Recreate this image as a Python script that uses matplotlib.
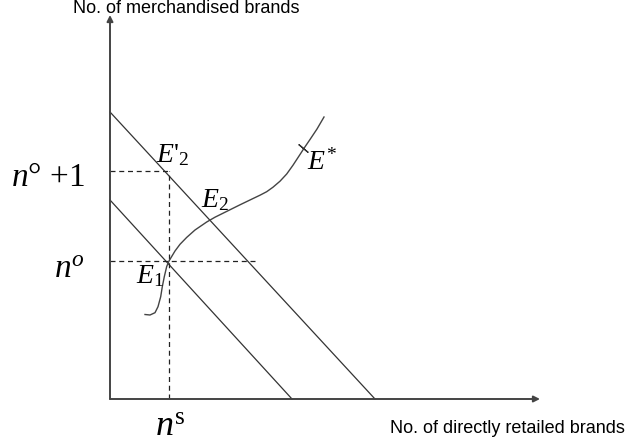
import matplotlib.pyplot as plt

plt.rcParams['mathtext.fontset'] = 'custom'
plt.rcParams['mathtext.rm'] = 'Liberation Serif'
plt.rcParams['mathtext.it'] = 'Liberation Serif:italic'

# axis extents (diagram units)
x_axis_end = 430
y_axis_end = 384

# the two downward sloping lines (intercepts)
inner_x = [0, 182]
inner_y = [199, 0]
outer_x = [0, 265]
outer_y = [287, 0]

# reference levels
n_o = 138
n_o1 = 228
n_s = 59
n_o_dash_end = 145

# the S-shaped curve through E1, E2, E*
curve_x = [35, 40, 45, 48, 50.7, 52.3, 54.3, 56.7, 59, 65, 70, 76.7, 85, 96.7, 105,
           116.7, 130, 143.3, 150, 156.7, 163, 170, 176.7, 183, 190, 194, 200, 207, 214]
curve_y = [84.5, 84, 86.3, 92.3, 102.3, 112.3, 122.3, 132.5, 138, 148, 154.7, 161.6,
           169, 177, 181.8, 187.6, 194.2, 200.6, 203.8, 207.3, 211.8, 217.8, 225, 233.8,
           244.5, 250.7, 259.5, 270, 282]
e_star = (193, 251)

fig = plt.figure(figsize=(6.44, 4.48), dpi=100)
ax = fig.add_axes([0, 0, 1, 1])
ax.set_xlim(-110, 534)
ax.set_ylim(-49, 399)
ax.axis('off')

# axes with arrows
arr = dict(arrowstyle='-|>', color='#444444', lw=1.4, mutation_scale=9, shrinkA=0, shrinkB=0)
ax.annotate('', xy=(0, y_axis_end), xytext=(0, 0), arrowprops=arr)
ax.annotate('', xy=(x_axis_end, 0), xytext=(0, 0), arrowprops=arr)

# downward sloping lines
ax.plot(inner_x, inner_y, color='#333333', lw=0.9)
ax.plot(outer_x, outer_y, color='#333333', lw=0.9)

# dashed guides
dash = dict(color='#222222', lw=0.9, ls=(0, (4, 3)))
ax.plot([0, n_s], [n_o1, n_o1], **dash)
ax.plot([n_s, n_s], [0, n_o1], **dash)
ax.plot([0, n_o_dash_end], [n_o, n_o], **dash)

# curve
ax.plot(curve_x, curve_y, color='#444444', lw=1.0, solid_joinstyle='round')
ax.plot(*e_star, marker=(2, 2, 50), ms=9, color='#333333', mew=0.9)

# axis titles
ax.text(76, 391, 'No. of merchandised brands', fontsize=13, family='Liberation Sans',
        ha='center', va='center')
ax.text(397, -29, 'No. of directly retailed brands', fontsize=13, family='Liberation Sans',
        ha='center', va='center')

# level labels
ax.text(-25, n_o1 - 7, r'$n$° +1', fontsize=24, family='Liberation Serif',
        ha='right', va='center')
ax.text(-25, n_o - 7, r'$n^o$', fontsize=24, ha='right', va='center')
ax.text(n_s + 1, -37, r'$n^{\rm s}$', fontsize=26, ha='center', va='baseline')

# point labels
ax.text(46, 237, r"$E$'$_2$", fontsize=20, family='Liberation Serif', ha='left', va='baseline')
ax.text(91, 192, r'$E_2$', fontsize=20, ha='left', va='baseline')
ax.text(26, 116, r'$E_1$', fontsize=20, ha='left', va='baseline')
ax.text(197, 229, r'$E^{\!*}$', fontsize=20, ha='left', va='baseline')

fig.savefig('out.png', dpi=100)
